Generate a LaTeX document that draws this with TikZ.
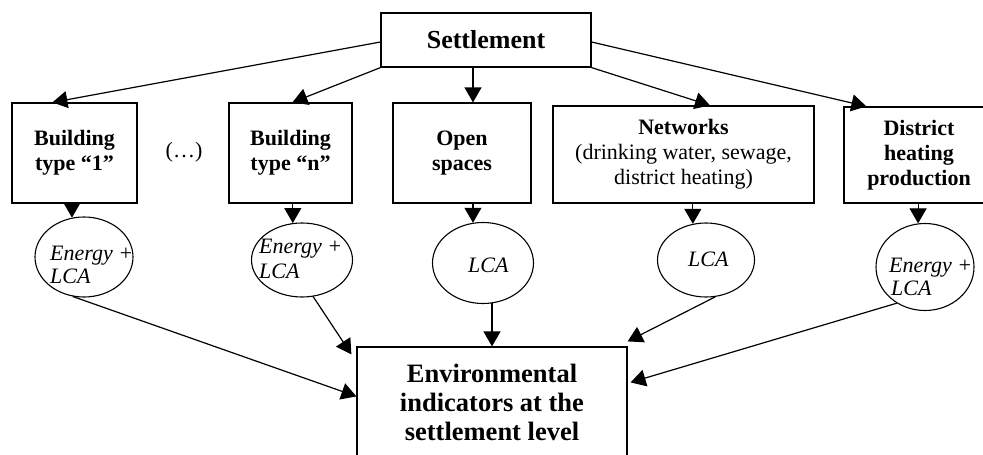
\documentclass[tikz,border=0pt]{standalone}
\usepackage{fontspec}
\setmainfont{Liberation Serif}
\usetikzlibrary{arrows.meta,calc,shapes.geometric}
\begin{document}
\begin{tikzpicture}[x=1pt,y=-1pt,
  box/.style={draw,line width=1.2pt,inner sep=0pt,align=center,font=\fontsize{22}{25}\selectfont\bfseries},
  oval/.style={draw,ellipse,line width=1.1pt,inner sep=0pt},
  arr/.style={line width=1.2pt,-{Triangle[length=15pt,width=17pt]}},
  it/.style={font=\fontsize{22}{23}\selectfont\itshape,inner sep=0pt,anchor=base west},
]
\useasboundingbox (0,0) rectangle (983,455);
\clip (0,0) rectangle (983,455);

% boxes
\node[box,minimum width=210pt,minimum height=54pt,font=\fontsize{26}{30}\selectfont\bfseries] (set) at (486,40) {Settlement};
\node[box,minimum width=125pt,minimum height=100pt] (b1) at (74.5,153) {Building\\type “1”};
\node[font=\fontsize{22}{25}\selectfont] (dots) at (184,152) {(…)};
\node[box,minimum width=123pt,minimum height=100pt] (bn) at (290.5,153) {Building\\type “n”};
\node[box,minimum width=138pt,minimum height=100pt] (open) at (462,153) {Open\\spaces};
\node[box,minimum width=261pt,minimum height=97pt] (net) at (683.5,154.5) {Networks\\{\mdseries (drinking water, sewage,}\\{\mdseries district heating)}};
\node[box,minimum width=150pt,minimum height=96pt] (dist) at (919,155) {District\\heating\\production};
\node[box,minimum width=270pt,minimum height=130pt] (env) at (492,412) {};
\node[align=center,inner sep=0pt,font=\fontsize{26.5}{29}\selectfont\bfseries] (envt) at (492,402) {Environmental\\indicators at the\\settlement level};

% ellipses
\node[oval,minimum width=98pt,minimum height=80pt] (e1) at (84,257) {};
\node[oval,minimum width=101pt,minimum height=74pt] (e2) at (302,260) {};
\node[oval,minimum width=101pt,minimum height=81pt] (e3) at (483,263) {};
\node[oval,minimum width=97pt,minimum height=74pt] (e4) at (706,260) {};
\node[oval,minimum width=98pt,minimum height=87pt] (e5) at (925,267) {};

\node[it] (t1a) at (50,260) {Energy +};
\node[it] (t1b) at (50,283) {LCA};
\node[it] (t2a) at (259,253) {Energy +};
\node[it] (t2b) at (259,278) {LCA};
\node[it] (t3) at (468,272) {LCA};
\node[it] (t4) at (688,266) {LCA};
\node[it] (t5a) at (889,272) {Energy +};
\node[it] (t5b) at (891,295) {LCA};

% settlement arrows
\coordinate (s1) at ($(set.west)+(0,2)$);
\coordinate (s5) at ($(set.east)+(0,2)$);
\coordinate (a1) at ($(b1.north west)+(41,0)$);
\coordinate (an) at ($(bn.north west)+(64,0)$);
\coordinate (ao) at ($(open.north)+(11,0)$);
\coordinate (anet) at ($(net.north)+(26.5,0)$);
\coordinate (ad) at ($(dist.north west)+(23,0)$);
\draw[arr] (s1) -- (a1);
\draw[arr] (set.south west) -- (an);
\draw[arr] (set.south -| ao) -- (ao);
\draw[arr] (set.south east) -- (anet);
\draw[arr] (s5) -- (ad);

% box to ellipse
\draw[arr] (b1.south -| e1.107) -- (e1.107);
\draw[arr] (bn.south -| e2.104) -- (e2.104);
\draw[arr] (open.south -| e3.104) -- (e3.104);
\draw[arr] (net.south -| e4.110) -- (e4.110);
\draw[arr] (dist.south -| e5.99) -- (e5.99);

% ellipse to env
\coordinate (x1) at ($(env.north west)+(0,50)$);
\coordinate (x2) at ($(env.north west)+(-5,8)$);
\coordinate (x4) at ($(env.north east)+(0,-5)$);
\coordinate (x5) at ($(env.north east)+(3,36)$);
\draw[arr] (e1.254) -- (x1);
\draw[arr] (e2.287) -- (x2);
\draw[arr] (env.north |- e3.284) -- (env.north);
\draw[arr] (e4.284) -- (x4);
\draw[arr] (e5.232) -- (x5);
\end{tikzpicture}
\end{document}
